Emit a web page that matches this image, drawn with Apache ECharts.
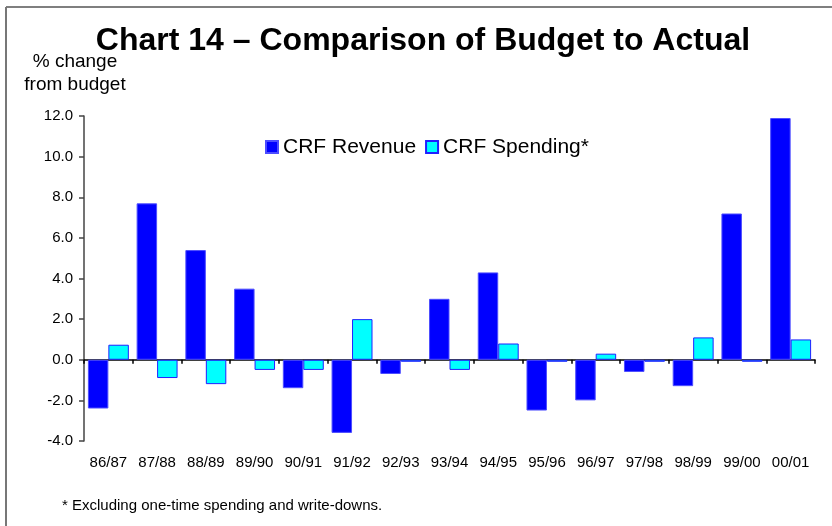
<!DOCTYPE html>
<html>
<head>
<meta charset="utf-8">
<script src="https://cdn.jsdelivr.net/npm/echarts@6/dist/echarts.min.js"></script>
<style>
html,body{margin:0;padding:0;background:#fff;}
#chart{width:832px;height:526px;}
</style>
</head>
<body>
<div id="chart"></div>
<script>
var categories = ['86/87','87/88','88/89','89/90','90/91','91/92','92/93','93/94','94/95','95/96','96/97','97/98','98/99','99/00','00/01'];
var revenue = [-2.4, 7.7, 5.4, 3.5, -1.4, -3.6, -0.7, 3.0, 4.3, -2.5, -2.0, -0.6, -1.3, 7.2, 11.9];
var spending = [0.74, -0.9, -1.2, -0.5, -0.5, 2.0, -0.1, -0.5, 0.8, -0.1, 0.3, -0.1, 1.1, -0.1, 1.0];
var yTicks = { min: -4, max: 12, interval: 2 };
var titleText = 'Chart 14 \u2013 Comparison of Budget to Actual';
var yAxisTitle = ['% change', 'from budget'];
var footnote = '* Excluding one-time spending and write-downs.';

var FONT = 'Liberation Sans, Arial, Helvetica, sans-serif';
var chart = echarts.init(document.getElementById('chart'), null, {renderer: 'canvas'});
chart.setOption({
  animation: false,
  backgroundColor: '#fff',
  textStyle: { fontFamily: FONT },
  grid: { left: 84, right: 17, top: 116, bottom: 85, containLabel: false },
  legend: {
    left: 265, top: 136.5, padding: 0,
    icon: 'rect',
    itemWidth: 12, itemHeight: 12, itemGap: 9,
    textStyle: { fontSize: 21, color: '#000', fontFamily: FONT },
    data: ['CRF Revenue', 'CRF Spending*']
  },
  xAxis: [
    {
      type: 'category', data: categories, position: 'bottom',
      axisLine: { show: false, onZero: false },
      axisTick: { show: false },
      axisLabel: { fontSize: 15, color: '#000', margin: 14, interval: 0, fontFamily: FONT },
      splitLine: { show: false }
    },
    {
      type: 'category', data: categories, position: 'bottom',
      axisLine: { show: true, onZero: true, lineStyle: { color: '#000', width: 1.5 } },
      axisTick: { show: true, length: 4, lineStyle: { color: '#000', width: 1.5 } },
      axisLabel: { show: false },
      splitLine: { show: false }
    }
  ],
  yAxis: {
    type: 'value', min: yTicks.min, max: yTicks.max, interval: yTicks.interval,
    axisLine: { show: true, onZero: false, lineStyle: { color: '#444', width: 1.5 } },
    axisTick: { show: true, length: 5, lineStyle: { color: '#444', width: 1.5 } },
    axisLabel: { fontSize: 15, color: '#000', margin: 11, fontFamily: FONT,
      formatter: function (v) { return v.toFixed(1); } },
    splitLine: { show: false }
  },
  series: [
    {
      name: 'CRF Revenue', type: 'bar', data: revenue, xAxisIndex: 0,
      barGap: '0%', barCategoryGap: '16%',
      itemStyle: { color: '#0000ff', borderColor: '#4d4dff', borderWidth: 1 }
    },
    {
      name: 'CRF Spending*', type: 'bar', data: spending, xAxisIndex: 0,
      barGap: '0%', barCategoryGap: '16%',
      itemStyle: { color: '#00ffff', borderColor: '#2020ff', borderWidth: 1 }
    }
  ],
  graphic: [
    { type: 'line', shape: { x1: 6, y1: 7, x2: 832, y2: 7 }, style: { stroke: '#555', lineWidth: 1.5 }, silent: true },
    { type: 'line', shape: { x1: 6, y1: 7, x2: 6, y2: 526 }, style: { stroke: '#777', lineWidth: 2 }, silent: true },
    { type: 'text', x: 423, y: 41, style: { text: titleText, font: 'bold 32px ' + FONT, fill: '#000', align: 'center', verticalAlign: 'middle' } },
    { type: 'text', x: 75, y: 62, style: { text: yAxisTitle[0], font: '19px ' + FONT, fill: '#000', align: 'center', verticalAlign: 'middle' } },
    { type: 'text', x: 75, y: 85, style: { text: yAxisTitle[1], font: '19px ' + FONT, fill: '#000', align: 'center', verticalAlign: 'middle' } },
    { type: 'text', x: 62, y: 506, style: { text: footnote, font: '15px ' + FONT, fill: '#000', align: 'left', verticalAlign: 'middle' } }
  ]
});
</script>
</body>
</html>
